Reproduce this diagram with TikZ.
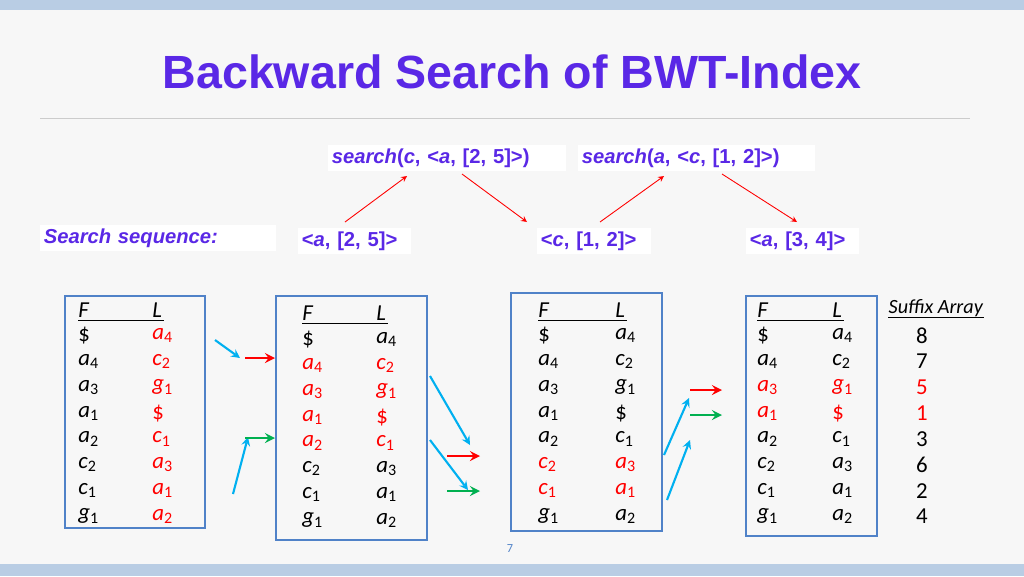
\documentclass[tikz,border=0pt]{standalone}
\usepackage{fontspec}
\setmainfont{Carlito}
\newfontfamily\hd{Liberation Sans}
\definecolor{ttl}{RGB}{90,40,230}
\definecolor{cy}{RGB}{0,176,240}
\definecolor{gr}{RGB}{0,176,80}
\definecolor{bx}{RGB}{80,130,200}
\definecolor{barcol}{RGB}{185,205,228}
\newcommand{\sy}[2]{\textit{#1}\textsubscript{#2}}
\tikzset{px/.style={x=0.02cm,y=-0.02cm},
 tbl/.style={draw=bx,line width=1.2pt},
 cell/.style={font=\fontsize{13}{14}\selectfont,inner sep=0pt,anchor=west},
 lbl/.style={fill=white,text=ttl,font=\hd\bfseries\fontsize{11.5}{13}\selectfont,inner sep=2pt,anchor=west,align=left},
 rar/.style={red,-stealth,line width=0.5pt},
 bar/.style={cy,-stealth,line width=1.2pt},
 har/.style={-stealth,line width=1.5pt}}
\begin{document}
\begin{tikzpicture}[px]
\useasboundingbox (0,0) rectangle (1024,576);
\fill[white!94!gray] (0,0) rectangle (1024,576);
\fill[barcol] (0,0) rectangle (1024,10);
\fill[barcol] (0,564) rectangle (1024,576);
\node[text=ttl,font=\hd\bfseries\fontsize{26.5}{30}\selectfont] (title) at (512,72) {Backward Search of BWT-Index};
\draw[gray!40] (40,118) -- (970,118);
% labels
\node[lbl,text width=0.02*231cm,minimum height=0.02*25cm] (s1) at (328,158) {\textit{search}(\textit{c}, <\textit{a}, [2, 5]>)};
\node[lbl,text width=0.02*230cm,minimum height=0.02*25cm] (s2) at (578,158) {\textit{search}(\textit{a}, <\textit{c}, [1, 2]>)};
\node[lbl,text width=0.02*229cm,minimum height=0.02*22cm] (sq) at (40,238) {\textit{Search sequence:}};
\node[lbl,text width=0.02*106cm,minimum height=0.02*22cm] (q1) at (298,241) {<\textit{a}, [2, 5]>};
\node[lbl,text width=0.02*107cm,minimum height=0.02*22cm] (q2) at (537,241) {<\textit{c}, [1, 2]>};
\node[lbl,text width=0.02*106cm,minimum height=0.02*22cm] (q3) at (746,241) {<\textit{a}, [3, 4]>};
\draw[rar] (345,222) -- (407,176);
\draw[rar] (462,174) -- (527,222);
\draw[rar] (600,222) -- (664,176);
\draw[rar] (722,174) -- (797,222);
% tables
\newcommand{\tab}[7]{%
 \draw[tbl] (#1,#2) rectangle (#3,#4);
 \node[cell] at (#5,#7) {\textit{F}};
 \node[cell] at (#6,#7) {\textit{L}};
 \draw (#5,#7+10) -- (#6+12,#7+10);
}
\tab{65}{296}{205}{528}{78}{152}{310}
\tab{276}{296}{427}{540}{302}{376}{313}
\tab{511}{293}{662}{531}{538}{615}{310}
\tab{746}{296}{877}{536}{757}{832}{310}
\foreach \F/\L [count=\i] in {\$/\sy{a}{4},\sy{a}{4}/\sy{c}{2},\sy{a}{3}/\sy{g}{1},\sy{a}{1}/\$,\sy{a}{2}/\sy{c}{1},\sy{c}{2}/\sy{a}{3},\sy{c}{1}/\sy{a}{1},\sy{g}{1}/\sy{a}{2}}{
 \pgfmathsetmacro\yy{310+25.8*\i}
 \node[cell] at (78,\yy) {\F};
 \node[cell,red] at (152,\yy) {\L};
 \pgfmathsetmacro\yb{314+25.8*\i}
 \ifnum\i>1 \ifnum\i<6 \def\cc{red}\else\def\cc{black}\fi\else\def\cc{black}\fi
 \node[cell,text=\cc] at (302,\yb) {\F};
 \node[cell,text=\cc] at (376,\yb) {\L};
 \ifnum\i>5 \ifnum\i<8 \def\cc{red}\else\def\cc{black}\fi\else\def\cc{black}\fi
 \node[cell,text=\cc] at (538,\yy) {\F};
 \node[cell,text=\cc] at (615,\yy) {\L};
 \ifnum\i>2 \ifnum\i<5 \def\cc{red}\else\def\cc{black}\fi\else\def\cc{black}\fi
 \node[cell,text=\cc] at (757,\yy) {\F};
 \node[cell,text=\cc] at (832,\yy) {\L};
}
\foreach \n/\c [count=\i] in {8/black,7/black,5/red,1/red,3/black,6/black,2/black,4/black}{
 \node[cell,text=\c,anchor=center] at (922,310+25.8*\i) {\n};
}
\node[cell,anchor=center,font=\fontsize{11.5}{12}\selectfont] (sa) at (936,308) {\textit{Suffix Array}};
\draw (sa.south west) -- (sa.south east);
% arrows
\draw[bar] (215,340) -- (240,358);
\draw[bar] (233,494) -- (248,437);
\draw[har,red] (245,358) -- (275,358);
\draw[har,gr] (245,438) -- (275,438);
\draw[bar] (430,376) -- (470,445);
\draw[bar] (430,440) -- (468,490);
\draw[har,red] (447,456) -- (480,456);
\draw[har,gr] (447,491) -- (480,491);
\draw[bar] (664,455) -- (689,398);
\draw[bar] (667,500) -- (690,440);
\draw[har,red] (690,390) -- (722,390);
\draw[har,gr] (690,415) -- (722,415);
\node[text=bx,font=\fontsize{7}{8}\selectfont] (pg) at (510,549) {7};
\end{tikzpicture}
\end{document}
